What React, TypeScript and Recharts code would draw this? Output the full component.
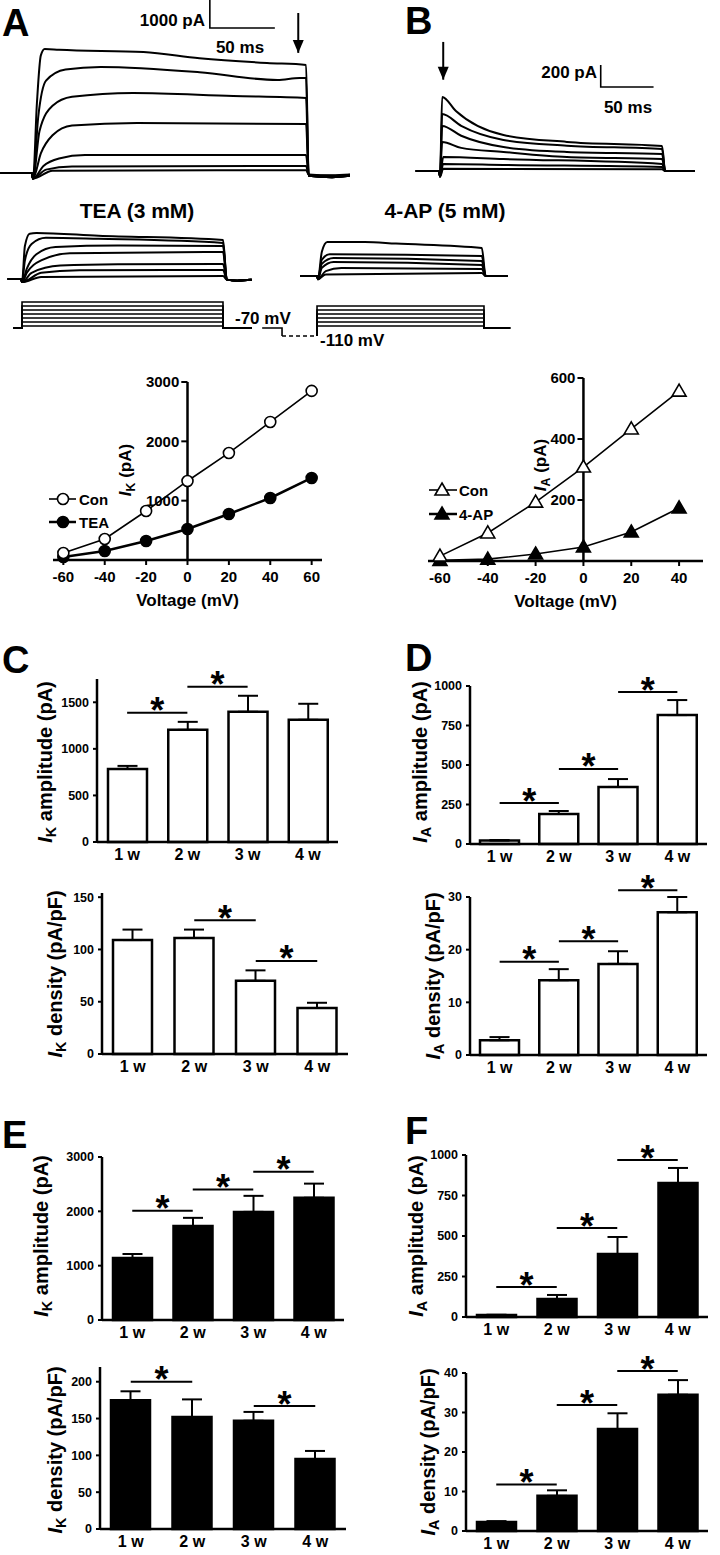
import React from 'react'
import {
  LineChart, ComposedChart, Line, Bar, ErrorBar, XAxis, YAxis, ReferenceLine, ReferenceDot,
} from 'recharts'

const FONT = "'Liberation Sans', Arial, Helvetica, sans-serif"
const NARROW = "'Liberation Sans Narrow', 'Liberation Sans', Arial, sans-serif"
const INK = '#000'

type Pt = [number, number]

// ---------- A / B current traces, [ms, pA] ----------
const kControlTraces: Pt[][] = [
  [[-25, 0], [-1, 0], [0, -200], [3, 2500], [6, 4200], [9, 4430], [20, 4400], [85, 4320], [128, 4100], [180, 3930], [210, 3860], [212, -100], [230, -150], [244, -100]],
  [[-25, 0], [-1, 0], [0, -200], [4, 2000], [10, 3300], [25, 3700], [52, 3790], [128, 3600], [188, 3320], [205, 3390], [210, 3390], [212, -100], [230, -150], [244, -100]],
  [[-25, 0], [-1, 0], [0, -200], [5, 1500], [15, 2400], [30, 2720], [77, 2860], [154, 2750], [210, 2680], [212, -100], [230, -150], [244, -100]],
  [[-25, 0], [-1, 0], [0, -200], [6, 700], [15, 1350], [30, 1700], [80, 1790], [210, 1750], [212, -100], [230, -150], [244, -100]],
  [[-25, 0], [-1, 0], [0, -200], [8, 250], [20, 520], [40, 640], [210, 640], [212, -80], [230, -120], [244, -80]],
  [[-25, 0], [-1, 0], [0, -200], [10, 120], [30, 230], [210, 250], [212, -60], [230, -100], [244, -60]],
  [[-25, 0], [-1, 0], [0, -200], [15, 80], [210, 100], [212, -50], [230, -80], [244, -50]],
]
const kTeaTraces: Pt[][] = [
  [[-15, 0], [-1, 0], [0, -150], [3, 1600], [8, 2200], [15, 2233], [80, 2100], [210, 1893], [214, -30], [225, -80], [240, -40]],
  [[-15, 0], [-1, 0], [0, -150], [3, 900], [10, 1700], [25, 2000], [80, 1950], [210, 1748], [214, -30], [225, -80], [240, -40]],
  [[-15, 0], [-1, 0], [0, -150], [5, 500], [15, 1200], [35, 1550], [100, 1620], [210, 1600], [214, -30], [225, -80], [240, -40]],
  [[-15, 0], [-1, 0], [0, -150], [5, 300], [20, 900], [50, 1250], [210, 1310], [214, -30], [225, -80], [240, -40]],
  [[-15, 0], [-1, 0], [0, -150], [10, 300], [40, 650], [100, 720], [210, 730], [214, -30], [225, -80], [240, -40]],
  [[-15, 0], [-1, 0], [0, -150], [20, 300], [60, 420], [210, 437], [214, -30], [225, -80], [240, -40]],
  [[-15, 0], [-1, 0], [0, -150], [20, 100], [210, 146], [214, -30], [225, -80], [240, -40]],
]
const aControlTraces: Pt[][] = [
  [[-23, 0], [-1, 0], [0, -50], [2, 673], [15, 545], [60, 327], [120, 264], [210, 227], [213, 0], [241, 0]],
  [[-23, 0], [-1, 0], [0, -50], [2, 518], [20, 410], [60, 282], [120, 230], [210, 200], [213, 0], [241, 0]],
  [[-23, 0], [-1, 0], [0, -50], [2, 409], [20, 320], [60, 218], [120, 173], [210, 155], [213, 0], [241, 0]],
  [[-23, 0], [-1, 0], [0, -50], [2, 264], [20, 210], [60, 173], [120, 127], [210, 109], [213, 0], [241, 0]],
  [[-23, 0], [-1, 0], [0, -50], [3, 127], [60, 109], [210, 64], [213, 0], [241, 0]],
  [[-23, 0], [-1, 0], [0, -50], [3, 64], [60, 55], [210, 36], [213, 0], [241, 0]],
  [[-23, 0], [-1, 0], [0, -50], [3, 20], [210, 15], [213, 0], [241, 0]],
]
const aApTraces: Pt[][] = [
  [[-23, 0], [-1, 0], [0, -40], [5, 300], [12, 420], [60, 420], [100, 400], [210, 345], [215, 0], [243, 0]],
  [[-23, 0], [-1, 0], [0, -40], [5, 200], [15, 270], [210, 247], [215, 0], [243, 0]],
  [[-23, 0], [-1, 0], [0, -40], [5, 150], [20, 222], [210, 185], [215, 0], [243, 0]],
  [[-23, 0], [-1, 0], [0, -40], [5, 100], [20, 173], [210, 136], [215, 0], [243, 0]],
  [[-23, 0], [-1, 0], [0, -40], [10, 60], [30, 100], [210, 86], [215, 0], [243, 0]],
  [[-23, 0], [-1, 0], [0, -40], [10, 20], [210, 37], [215, 0], [243, 0]],
]

// scale bars and arrows (ms, pA)
const scaleBarA = { t: 136, i: 5180, dt: 50, di: 1000 }
const scaleBarB = { t: 152, i: 764, dt: 50, di: 200 }
const arrowA = { t: 204, from: 5714, to: 4290 }
const arrowB = { t: 3, from: 1173, to: 830 }

// voltage protocols (ms, mV)
const kSteps = [-60, -40, -20, 0, 20, 40, 60]
const aSteps = [-60, -40, -20, 0, 20, 40]
const holding = -70
const prepulse = -110
const stepEnd = 210

// ---------- I-V ----------
const ivVoltK = [-60, -40, -20, 0, 20, 40, 60]
const ivConK = [118, 354, 826, 1332, 1804, 2327, 2850]
const ivTeaK = [50, 152, 320, 523, 776, 1045, 1383]
const ivTicksK = [1000, 2000, 3000]
const ivVoltA = [-60, -40, -20, 0, 20, 40]
const ivConA = [16, 92, 193, 308, 433, 557]
const ivApA = [2, 6, 23, 46, 95, 174]
const ivTicksA = [200, 400, 600]

// ---------- C-F: development ----------
const weeks = ['1 w', '2 w', '3 w', '4 w']
const ikAmpC = [785, 1204, 1398, 1312]
const ikAmpCSem = [32, 86, 172, 172]
const ikDenC = [109, 111, 70, 44]
const ikDenCSem = [10, 8, 10, 5]
const iaAmpD = [22, 190, 361, 816]
const iaAmpDSem = [3, 19, 50, 95]
const iaDenD = [2.8, 14.2, 17.3, 27.1]
const iaDenDSem = [0.6, 2.1, 2.4, 2.9]
const ikAmpE = [1140, 1730, 1990, 2250]
const ikAmpESem = [75, 150, 295, 260]
const ikDenE = [175, 152, 147, 95]
const ikDenESem = [12, 24, 12, 11]
const iaAmpF = [12, 111, 389, 827]
const iaAmpFSem = [2, 25, 105, 93]
const iaDenF = [2.3, 8.9, 25.8, 34.5]
const iaDenFSem = [0.2, 1.4, 4.0, 3.7]

// significance pairs [from week, to week, level]
const sigC1 = [[1, 2, 1387], [2, 3, 1667]]
const sigC2 = [[2, 3, 128], [3, 4, 89]]
const sigD1 = [[1, 2, 259], [2, 3, 475], [3, 4, 962]]
const sigD2 = [[1, 2, 17.7], [2, 3, 21.6], [3, 4, 31.3]]
const sigE1 = [[1, 2, 2010], [2, 3, 2400], [3, 4, 2730]]
const sigE2 = [[1, 2, 200], [3, 4, 167]]
const sigF1 = [[1, 2, 185], [2, 3, 549], [3, 4, 969]]
const sigF2 = [[1, 2, 11.8], [2, 3, 31.9], [3, 4, 40.5]]

// ---------- helpers ----------
type Box = { left: number; top: number; width: number; height: number }
type Series = { pts: Pt[]; w?: number; dash?: string; curve?: 'monotone' | 'linear'; dot?: any }

const rows = (pts: Pt[]) => pts.map(([x, y]) => ({ x, y }))

function TraceChart({ box, xd, yd, series }: { box: Box; xd: [number, number]; yd: [number, number]; series: Series[] }) {
  return (
    <div style={{ position: 'absolute', left: box.left, top: box.top }}>
      <LineChart width={box.width} height={box.height} margin={{ top: 0, right: 0, bottom: 0, left: 0 }}>
        <XAxis type="number" dataKey="x" domain={xd} hide allowDataOverflow />
        <YAxis type="number" dataKey="y" domain={yd} hide allowDataOverflow />
        {series.map((s, k) => (
          <Line key={k} data={rows(s.pts)} dataKey="y" type={s.curve ?? 'monotone'} stroke={INK}
            strokeWidth={s.w ?? 2} strokeDasharray={s.dash} dot={s.dot ?? false} isAnimationActive={false} />
        ))}
      </LineChart>
    </div>
  )
}

const arrowHead = (p: any) =>
  p.index === 1
    ? <path key="head" d={`M${p.cx - 5.5},${p.cy - 13}L${p.cx + 5.5},${p.cy - 13}L${p.cx},${p.cy}Z`} fill={INK} />
    : <g key={`n${p.index}`} />

const scaleBar = (s: { t: number; i: number; dt: number; di: number }): Series => ({
  pts: [[s.t, s.i + s.di], [s.t, s.i], [s.t + s.dt, s.i]], curve: 'linear', w: 1.6,
})
const arrow = (a: { t: number; from: number; to: number }): Series => ({
  pts: [[a.t, a.from], [a.t, a.to]], curve: 'linear', w: 2, dot: arrowHead,
})

function Txt({ x, y, size = 17, anchor = 'start', font = FONT, children }: any) {
  const tx = anchor === 'middle' ? '-50%' : anchor === 'end' ? '-100%' : '0'
  return (
    <div style={{
      position: 'absolute', left: x, top: y, transform: `translate(${tx}, -50%)`, fontSize: size,
      fontFamily: font, fontWeight: 'bold', whiteSpace: 'nowrap', lineHeight: 1,
    }}>{children}</div>
  )
}

function RotLabel({ x, y, size = 20, sub, rest }: any) {
  return (
    <div style={{
      position: 'absolute', left: x, top: y, transform: 'translate(-50%, -50%) rotate(-90deg)',
      fontSize: size, fontWeight: 'bold', whiteSpace: 'nowrap', lineHeight: 1,
    }}>
      <i>I</i><span style={{ fontSize: '0.72em', position: 'relative', top: '0.3em' }}>{sub}</span> {rest}
    </div>
  )
}

const STAR = 36
const starShape = (p: any) => (
  <text x={p.cx} y={p.cy - 10 + 0.57 * STAR} textAnchor="middle" fontSize={STAR} fontWeight="bold"
    fontFamily={FONT} fill={INK}>*</text>
)

type PanelLayout = { left: number; plotLeft: number; plotRight: number; plotTop: number; plotBottom: number }

function BarPanel({ lay, mean, sem, ymax, ticks, sig, filled }: {
  lay: PanelLayout; mean: number[]; sem: number[]; ymax: number; ticks: number[]; sig: number[][]; filled: boolean
}) {
  const data = weeks.map((w, k) => ({ x: k + 1, week: w, v: mean[k], e: [0, sem[k]] }))
  const top = lay.plotTop - 40
  const height = lay.plotBottom - top + 32
  return (
    <div style={{ position: 'absolute', left: lay.left, top }}>
      <ComposedChart width={360} height={height} data={data}
        margin={{ top: 40, right: lay.left + 360 - lay.plotRight, bottom: 2, left: 0 }}>
        <XAxis type="number" dataKey="x" domain={[0.5, 4.5]} ticks={[1, 2, 3, 4]} height={30}
          tickFormatter={(v: number) => weeks[v - 1]} axisLine={{ stroke: INK, strokeWidth: 2.5 }}
          tickLine={false} tickSize={0} tickMargin={7}
          tick={{ fill: INK, fontSize: 16, fontWeight: 'bold', fontFamily: FONT }} />
        <YAxis type="number" domain={[0, ymax]} ticks={ticks} width={lay.plotLeft - lay.left}
          axisLine={{ stroke: INK, strokeWidth: 2.5 }} tickLine={{ stroke: INK, strokeWidth: 2 }} tickSize={4} tickMargin={4}
          tick={{ fill: INK, fontSize: 12.5, fontWeight: 'bold', fontFamily: FONT }} />
        <Bar dataKey="v" barSize={39} fill={filled ? INK : '#fff'} stroke={INK} strokeWidth={2.5} isAnimationActive={false}>
          <ErrorBar dataKey="e" direction="y" width={10} stroke={INK} strokeWidth={2} />
        </Bar>
        {sig.map(([a, b, y], k) => (
          <ReferenceLine key={`l${k}`} segment={[{ x: a, y }, { x: b, y }]} stroke={INK} strokeWidth={2} ifOverflow="visible" />
        ))}
        {sig.map(([a, b, y], k) => (
          <ReferenceDot key={`s${k}`} x={(a + b) / 2} y={y} ifOverflow="visible" shape={starShape} />
        ))}
      </ComposedChart>
    </div>
  )
}

const circleDot = (filled: boolean) => (p: any) => (
  <circle key={`c${p.index}`} cx={p.cx} cy={p.cy} r={5.5} fill={filled ? INK : '#fff'} stroke={INK} strokeWidth={1.6} />
)
const triDot = (filled: boolean) => (p: any) => (
  <path key={`t${p.index}`} d={`M${p.cx},${p.cy - 7}L${p.cx + 7},${p.cy + 5}L${p.cx - 7},${p.cy + 5}Z`}
    fill={filled ? INK : '#fff'} stroke={INK} strokeWidth={1.6} strokeLinejoin="miter" />
)

function IVChart({ left, margin, xd, yd, volts, series, yTicks, tickLen }: any) {
  return (
    <div style={{ position: 'absolute', left, top: 360 }}>
      <LineChart width={360} height={260} margin={margin}>
        <XAxis type="number" dataKey="v" domain={xd} ticks={volts} height={50}
          axisLine={{ stroke: INK, strokeWidth: 2.5 }} tickLine={{ stroke: INK, strokeWidth: 2 }} tickSize={5} tickMargin={6}
          tick={{ fill: INK, fontSize: 15, fontWeight: 'bold', fontFamily: FONT }}
          label={{ value: 'Voltage (mV)', position: 'insideBottom', offset: 4, fill: INK, fontSize: 17, fontWeight: 'bold', fontFamily: FONT }} />
        <YAxis type="number" dataKey="i" domain={yd} hide />
        <ReferenceLine x={0} stroke={INK} strokeWidth={2.5} />
        {yTicks.map((t: number) => (
          <ReferenceLine key={t} segment={[{ x: -tickLen, y: t }, { x: 0, y: t }]} stroke={INK} strokeWidth={2} ifOverflow="visible"
            label={{ value: String(t), position: 'left', offset: 2, fill: INK, fontSize: 15, fontWeight: 'bold', fontFamily: FONT }} />
        ))}
        {series.map((s: any, k: number) => (
          <Line key={k} data={volts.map((v: number, j: number) => ({ v, i: s.vals[j] }))} dataKey="i" type="linear"
            stroke={INK} strokeWidth={s.w} dot={s.dot} isAnimationActive={false} />
        ))}
      </LineChart>
    </div>
  )
}

function LegendRows({ items }: { items: { label: string; y: number; x1: number; x2: number; mx: number; tx: number; marker: any }[] }) {
  return (
    <svg style={{ position: 'absolute', left: 0, top: 0 }} width={720} height={700}>
      {items.map((it, k) => (
        <g key={k}>
          <line x1={it.x1} x2={it.x2} y1={it.y} y2={it.y} stroke={INK} strokeWidth={k % 2 ? 2.5 : 1.6} />
          {it.marker({ cx: it.mx, cy: it.y, index: k })}
          <text x={it.tx} y={it.y + 5.5} fontSize={15} fontWeight="bold" fontFamily={FONT} fill={INK}>{it.label}</text>
        </g>
      ))}
    </svg>
  )
}

export default function App() {
  const kProtocol: Series[] = kSteps.map(V => ({
    pts: [[-9, holding], [0, holding], [0, V], [stepEnd, V], [stepEnd, holding], [240, holding]] as Pt[],
    curve: 'linear', w: 1.6,
  }))
  const aProtocol: Series[] = [
    { pts: [[-69, holding], [-44, holding], [-44, prepulse]], curve: 'linear', w: 1.6 },
    { pts: [[-44, prepulse], [0, prepulse]], curve: 'linear', w: 1.6, dash: '4 3' },
    ...aSteps.map(V => ({
      pts: [[0, prepulse], [0, V], [stepEnd, V], [stepEnd, holding], [243, holding]] as Pt[],
      curve: 'linear' as const, w: 1.6,
    })),
  ]

  return (
    <div style={{
      position: 'absolute', left: 0, top: 0, width: 720, height: 1555, background: '#fff',
      fontFamily: FONT, color: INK, overflow: 'hidden',
    }}>
      {/* panel letters */}
      <Txt x={2} y={23} size={38}>A</Txt>
      <Txt x={405} y={21} size={38}>B</Txt>
      <Txt x={2} y={660} size={38}>C</Txt>
      <Txt x={405} y={658} size={38}>D</Txt>
      <Txt x={2} y={1135} size={38}>E</Txt>
      <Txt x={405} y={1131} size={38}>F</Txt>

      {/* A traces */}
      <TraceChart box={{ left: 0, top: -3, width: 350, height: 188 }} xd={[-25.4, 243.8]} yd={[-429, 6286]}
        series={[...kControlTraces.map(pts => ({ pts })), scaleBar(scaleBarA), arrow(arrowA)]} />
      <Txt x={205} y={20} anchor="end">1000 pA</Txt>
      <Txt x={240} y={47} anchor="middle">50 ms</Txt>
      <Txt x={137} y={210} size={21} anchor="middle">TEA (3 mM)</Txt>
      <TraceChart box={{ left: 7, top: 225, width: 245, height: 65 }} xd={[-15.7, 240.3]} yd={[-534, 2621]}
        series={kTeaTraces.map(pts => ({ pts }))} />
      <TraceChart box={{ left: 7, top: 295, width: 245, height: 50 }} xd={[-15.7, 240.3]} yd={[-155, 95]}
        series={kProtocol} />
      <Txt x={235} y={318} size={17} font={NARROW}>-70 mV</Txt>

      {/* B traces */}
      <TraceChart box={{ left: 415, top: 35, width: 280, height: 145 }} xd={[-23.7, 241.2]} yd={[-82, 1236]}
        series={[...aControlTraces.map(pts => ({ pts })), scaleBar(scaleBarB), arrow(arrowB)]} />
      <Txt x={597} y={72} anchor="end">200 pA</Txt>
      <Txt x={628} y={107} anchor="middle">50 ms</Txt>
      <Txt x={445} y={210} size={21} anchor="middle">4-AP (5 mM)</Txt>
      <TraceChart box={{ left: 300, top: 235, width: 208, height: 50 }} xd={[-23, 243.6]} yd={[-111, 506]}
        series={aApTraces.map(pts => ({ pts }))} />
      <TraceChart box={{ left: 255, top: 295, width: 260, height: 50 }} xd={[-78, 249]} yd={[-155, 95]}
        series={aProtocol} />
      <Txt x={320} y={340} size={17} font={NARROW}>-110 mV</Txt>

      {/* I-V curves */}
      <IVChart left={0} margin={{ top: 22, right: 38, bottom: 10, left: 53 }} xd={[-65, 65]} yd={[0, 3000]}
        volts={ivVoltK} yTicks={ivTicksK} tickLen={3}
        series={[{ vals: ivTeaK, w: 2.5, dot: circleDot(true) }, { vals: ivConK, w: 1.6, dot: circleDot(false) }]} />
      <IVChart left={360} margin={{ top: 18, right: 17, bottom: 9, left: 68 }} xd={[-65, 50]} yd={[0, 600]}
        volts={ivVoltA} yTicks={ivTicksA} tickLen={2.5}
        series={[{ vals: ivApA, w: 1.6, dot: triDot(true) }, { vals: ivConA, w: 1.6, dot: triDot(false) }]} />
      <RotLabel x={125} y={470} size={17} sub="K" rest="(pA)" />
      <RotLabel x={540} y={465} size={17} sub="A" rest="(pA)" />
      <LegendRows items={[
        { label: 'Con', y: 499, x1: 49, x2: 76, mx: 63, tx: 79, marker: circleDot(false) },
        { label: 'TEA', y: 522, x1: 49, x2: 76, mx: 63, tx: 79, marker: circleDot(true) },
        { label: 'Con', y: 490, x1: 429, x2: 457, mx: 442, tx: 459, marker: triDot(false) },
        { label: '4-AP', y: 514, x1: 429, x2: 457, mx: 442, tx: 459, marker: triDot(true) },
      ]} />

      {/* C */}
      <BarPanel lay={{ left: 0, plotLeft: 97, plotRight: 338, plotTop: 679, plotBottom: 842 }}
        mean={ikAmpC} sem={ikAmpCSem} ymax={1750} ticks={[0, 500, 1000, 1500]} sig={sigC1} filled={false} />
      <RotLabel x={45} y={762} sub="K" rest="amplitude (pA)" />
      <BarPanel lay={{ left: 0, plotLeft: 102, plotRight: 348, plotTop: 893, plotBottom: 1054 }}
        mean={ikDenC} sem={ikDenCSem} ymax={154} ticks={[0, 50, 100, 150]} sig={sigC2} filled={false} />
      <RotLabel x={55} y={974} sub="K" rest="density (pA/pF)" />

      {/* D */}
      <BarPanel lay={{ left: 360, plotLeft: 470, plotRight: 707, plotTop: 686, plotBottom: 844 }}
        mean={iaAmpD} sem={iaAmpDSem} ymax={1000} ticks={[0, 250, 500, 750, 1000]} sig={sigD1} filled={false} />
      <RotLabel x={420} y={762} sub="A" rest="amplitude (pA)" />
      <BarPanel lay={{ left: 360, plotLeft: 470, plotRight: 707, plotTop: 897, plotBottom: 1055 }}
        mean={iaDenD} sem={iaDenDSem} ymax={30} ticks={[0, 10, 20, 30]} sig={sigD2} filled={false} />
      <RotLabel x={433} y={976} sub="A" rest="density (pA/pF)" />

      {/* E */}
      <BarPanel lay={{ left: 0, plotLeft: 102, plotRight: 344, plotTop: 1157, plotBottom: 1320 }}
        mean={ikAmpE} sem={ikAmpESem} ymax={3000} ticks={[0, 1000, 2000, 3000]} sig={sigE1} filled />
      <RotLabel x={41} y={1236} sub="K" rest="amplitude (pA)" />
      <BarPanel lay={{ left: 0, plotLeft: 100, plotRight: 346, plotTop: 1367, plotBottom: 1529 }}
        mean={ikDenE} sem={ikDenESem} ymax={220} ticks={[0, 50, 100, 150, 200]} sig={sigE2} filled />
      <RotLabel x={55} y={1450} sub="K" rest="density (pA/pF)" />

      {/* F */}
      <BarPanel lay={{ left: 360, plotLeft: 466, plotRight: 708, plotTop: 1155, plotBottom: 1317 }}
        mean={iaAmpF} sem={iaAmpFSem} ymax={1000} ticks={[0, 250, 500, 750, 1000]} sig={sigF1} filled />
      <RotLabel x={416} y={1236} sub="A" rest="amplitude (pA)" />
      <BarPanel lay={{ left: 360, plotLeft: 466, plotRight: 708, plotTop: 1373, plotBottom: 1531 }}
        mean={iaDenF} sem={iaDenFSem} ymax={40} ticks={[0, 10, 20, 30, 40]} sig={sigF2} filled />
      <RotLabel x={428} y={1452} sub="A" rest="density (pA/pF)" />
    </div>
  )
}
